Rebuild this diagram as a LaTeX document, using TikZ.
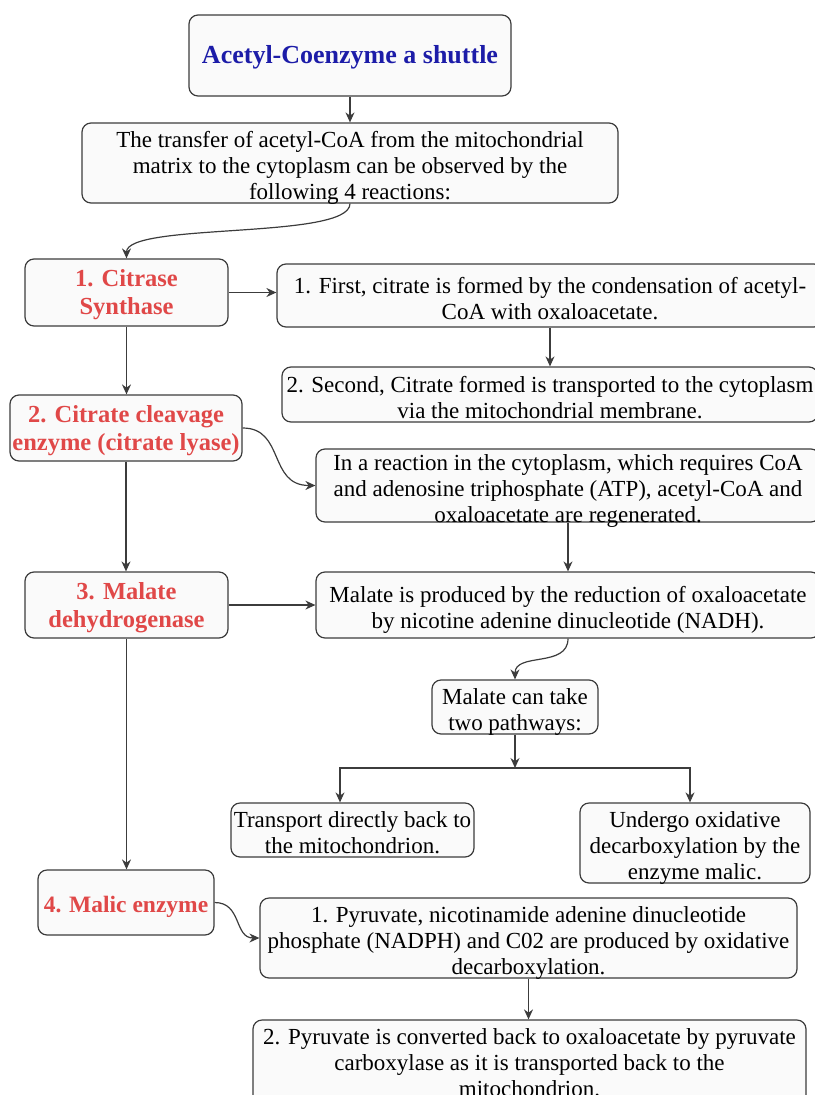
\documentclass[tikz,border=0pt]{standalone}
\usepackage{fontspec}
\setmainfont{Liberation Serif}
\usetikzlibrary{arrows.meta}
\definecolor{edge}{HTML}{3C3C3C}
\definecolor{boxfill}{HTML}{FAFAFA}
\definecolor{titleblue}{HTML}{1C1CA8}
\definecolor{stepred}{HTML}{E04848}
% centred block of lines that does not enlarge its box
\newcommand{\boxtext}[2][-11.75pt]{\raisebox{#1}[0pt][0pt]{\begin{tabular}{@{}c@{}}#2\end{tabular}}}
\tikzset{
  box/.style={draw=edge, line width=1.2pt, fill=boxfill, rounded corners=9pt,
    inner sep=0pt, font=\fontsize{23}{26}\selectfont},
  stage/.style={box, text=stepred, font=\fontsize{24.5}{28}\selectfont\bfseries},
  link/.style={draw=edge, line width=1.2pt, -{Stealth[length=10pt,width=9pt]}},
}
\begin{document}
\begin{tikzpicture}[x=1pt,y=-1pt]
\useasboundingbox (0,0) rectangle (814,1095);

% title and introduction
\node[box, minimum width=322pt, minimum height=81pt, text=titleblue,
  font=\fontsize{26}{30}\selectfont\bfseries] (title) at (350,55.5) {\boxtext[-8.5pt]{Acetyl-Coenzyme a shuttle}};
\node[box, minimum width=536pt, minimum height=80pt] (intro) at (350,163)
  {\boxtext{The transfer of acetyl-CoA from the mitochondrial\\matrix to the cytoplasm can be observed by the\\following 4 reactions:}};

% the four reactions (left column)
\node[stage, minimum width=203pt, minimum height=67pt] (cs) at (126.5,292.5) {\boxtext[-9pt]{1. Citrase\\Synthase}};
\node[stage, minimum width=232pt, minimum height=66pt] (cc) at (126,428) {\boxtext[-9pt]{2. Citrate cleavage\\enzyme (citrate lyase)}};
\node[stage, minimum width=203pt, minimum height=66pt] (md) at (126.5,605) {\boxtext[-9pt]{3. Malate\\dehydrogenase}};
\node[stage, minimum width=176pt, minimum height=65pt, font=\fontsize{23.5}{27}\selectfont\bfseries] (me) at (126,902.5) {\boxtext[-10.5pt]{4. Malic enzyme}};

% details (right column)
\node[box, minimum width=546pt, minimum height=63pt] (r1) at (550,295.5)
  {\boxtext{1. First, citrate is formed by the condensation of acetyl-\\CoA with oxaloacetate.}};
\node[box, minimum width=536pt, minimum height=55pt] (r2) at (550,394.5)
  {\boxtext{2. Second, Citrate formed is transported to the cytoplasm\\via the mitochondrial membrane.}};
\node[box, minimum width=504pt, minimum height=73pt] (r3) at (568,485.5)
  {\boxtext{In a reaction in the cytoplasm, which requires CoA\\and adenosine triphosphate (ATP), acetyl-CoA and\\oxaloacetate are regenerated.}};
\node[box, minimum width=504pt, minimum height=66pt] (r4) at (568,605)
  {\boxtext{Malate is produced by the reduction of oxaloacetate\\by nicotine adenine dinucleotide (NADH).}};
\node[box, minimum width=166pt, minimum height=54pt] (mt) at (515,707)
  {\boxtext{Malate can take\\two pathways:}};
\node[box, minimum width=243pt, minimum height=54pt] (tr) at (352.5,830)
  {\boxtext{Transport directly back to\\the mitochondrion.}};
\node[box, minimum width=230pt, minimum height=80pt] (un) at (695,843)
  {\boxtext{Undergo oxidative\\decarboxylation by the\\enzyme malic.}};
\node[box, minimum width=537pt, minimum height=80pt] (p1) at (528.5,938)
  {\boxtext{1. Pyruvate, nicotinamide adenine dinucleotide\\phosphate (NADPH) and C02 are produced by oxidative\\decarboxylation.}};
\node[box, minimum width=553pt, minimum height=84pt] (p2) at (529.5,1062)
  {\boxtext[-10pt]{2. Pyruvate is converted back to oxaloacetate by pyruvate\\carboxylase as it is transported back to the\\mitochondrion.}};

% connectors
\draw[link] (title.south) -- (intro.north);
\draw[link] (intro.south) .. controls (350,240) and (126.5,222) .. (cs.north);
\draw[link] (cs.east) -- (cs.east -| r1.west);
\draw[link] (r1.south) -- (r2.north);
\draw[link] (cs.south) -- (cs.south |- cc.north);
\draw[link] (cc.east) .. controls (285,428) and (268,485.5) .. (r3.west);
\draw[link] (r3.south) -- (r4.north);
\draw[link] (cc.south) -- (cc.south |- md.north);
\draw[link] (md.east) -- (r4.west);
\draw[link] (r4.south) .. controls (568,668) and (515,652) .. (mt.north);
\coordinate (split) at (515,768);
\draw[link] (mt.south) -- (split);
\draw[link] (split) -| ([xshift=-12.5pt]tr.north);
\draw[link] (split) -| ([xshift=-5pt]un.north);
\draw[link] (md.south) -- (md.south |- me.north);
\draw[link] (me.east) .. controls (242,902.5) and (234,938) .. (p1.west);
\draw[link] (p1.south) -- (p1.south |- p2.north);
\end{tikzpicture}
\end{document}
